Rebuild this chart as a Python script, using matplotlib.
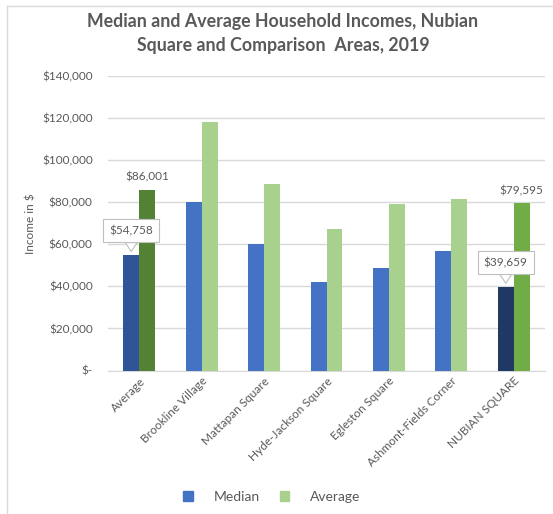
import numpy as np
import matplotlib.pyplot as plt
from matplotlib.ticker import FuncFormatter
from matplotlib.lines import Line2D
from matplotlib.patches import Patch

plt.rcParams['font.family'] = ['Lato', 'DejaVu Sans']

areas = ['Average', 'Brookline Village', 'Mattapan Square', 'Hyde-Jackson Square',
         'Egleston Square', 'Ashmont-Fields Corner', 'NUBIAN SQUARE']
median = [54758, 80100, 59900, 42200, 48700, 57000, 39659]
average = [86001, 118300, 88500, 67400, 79300, 81700, 79595]

# highlighted bars: the overall average and Nubian Square
median_colors = ['#2F5597'] + ['#4472C4'] * 5 + ['#203864']
average_colors = ['#548235'] + ['#A9D18E'] * 5 + ['#70AD47']

grey = '#595959'

fig = plt.figure(figsize=(5.53, 5.14), dpi=100)
ax = fig.add_axes([108 / 553, 1 - 370.5 / 514, 437 / 553, (370.5 - 76) / 514])

x = np.arange(len(areas))
w = 0.256
ax.bar(x - w / 2, median, w, color=median_colors, zorder=3)
ax.bar(x + w / 2, average, w, color=average_colors, zorder=3)

ax.set_xlim(-0.5, len(areas) - 0.5)
ax.set_ylim(0, 140000)
ax.set_yticks(np.arange(0, 140001, 20000))
ax.yaxis.set_major_formatter(FuncFormatter(lambda v, p: '$-' if v == 0 else '${:,.0f}'.format(v)))
ax.grid(axis='y', color='#D9D9D9', linewidth=1, zorder=0)
for s in ['top', 'right', 'left']:
    ax.spines[s].set_visible(False)
ax.spines['bottom'].set_color('#D9D9D9')
ax.tick_params(axis='both', length=0, colors=grey, labelsize=8.5)
ax.tick_params(axis='y', pad=11)
ax.set_xticks(x)
ax.set_xticklabels(areas, rotation=45, ha='right', rotation_mode='anchor')
ax.set_ylabel('Income in $', color=grey, fontsize=8.5, labelpad=4)

# value labels for the highlighted averages
for i in [0, 6]:
    ax.annotate('${:,.0f}'.format(average[i]), (x[i] + w / 2, average[i]),
                xytext=(0, 5), textcoords='offset points', ha='center', va='bottom',
                color=grey, fontsize=8.5)

# callout labels for the highlighted medians
for i in [0, 6]:
    ax.annotate('${:,.0f}'.format(median[i]), (x[i] - w / 2, median[i] + 1800),
                xytext=(0, 11), textcoords='offset points', ha='center', va='bottom',
                color=grey, fontsize=8.5, zorder=5,
                bbox=dict(boxstyle='square,pad=0.5', fc='white', ec='#BFBFBF', lw=0.8),
                arrowprops=dict(arrowstyle='wedge,tail_width=1.0,shrink_factor=0.5',
                                fc='white', ec='#BFBFBF', lw=0.8,
                                shrinkA=0, shrinkB=0))

fig.text(283 / 553, 1 - 22 / 514, 'Median and Average Household Incomes, Nubian',
         ha='center', va='center', color=grey, fontsize=12.8, fontweight='bold')
fig.text(283 / 553, 1 - 45 / 514, 'Square and Comparison  Areas, 2019',
         ha='center', va='center', color=grey, fontsize=12.8, fontweight='bold')

handles = [Patch(color='#4472C4', label='Median'), Patch(color='#A9D18E', label='Average')]
fig.legend(handles=handles, loc='center', bbox_to_anchor=(272 / 553, 1 - 497 / 514),
           ncol=2, frameon=False, fontsize=10, labelcolor=grey,
           handlelength=0.65, handleheight=0.65, columnspacing=1.5, handletextpad=1.5)

# chart frame
fig.add_artist(Line2D([7 / 553, 7 / 553], [0, 1 - 6 / 514], color='#D9D9D9', lw=1))
fig.add_artist(Line2D([7 / 553, 1], [1 - 6 / 514, 1 - 6 / 514], color='#D9D9D9', lw=1))

fig.savefig('out.png', dpi=100)
